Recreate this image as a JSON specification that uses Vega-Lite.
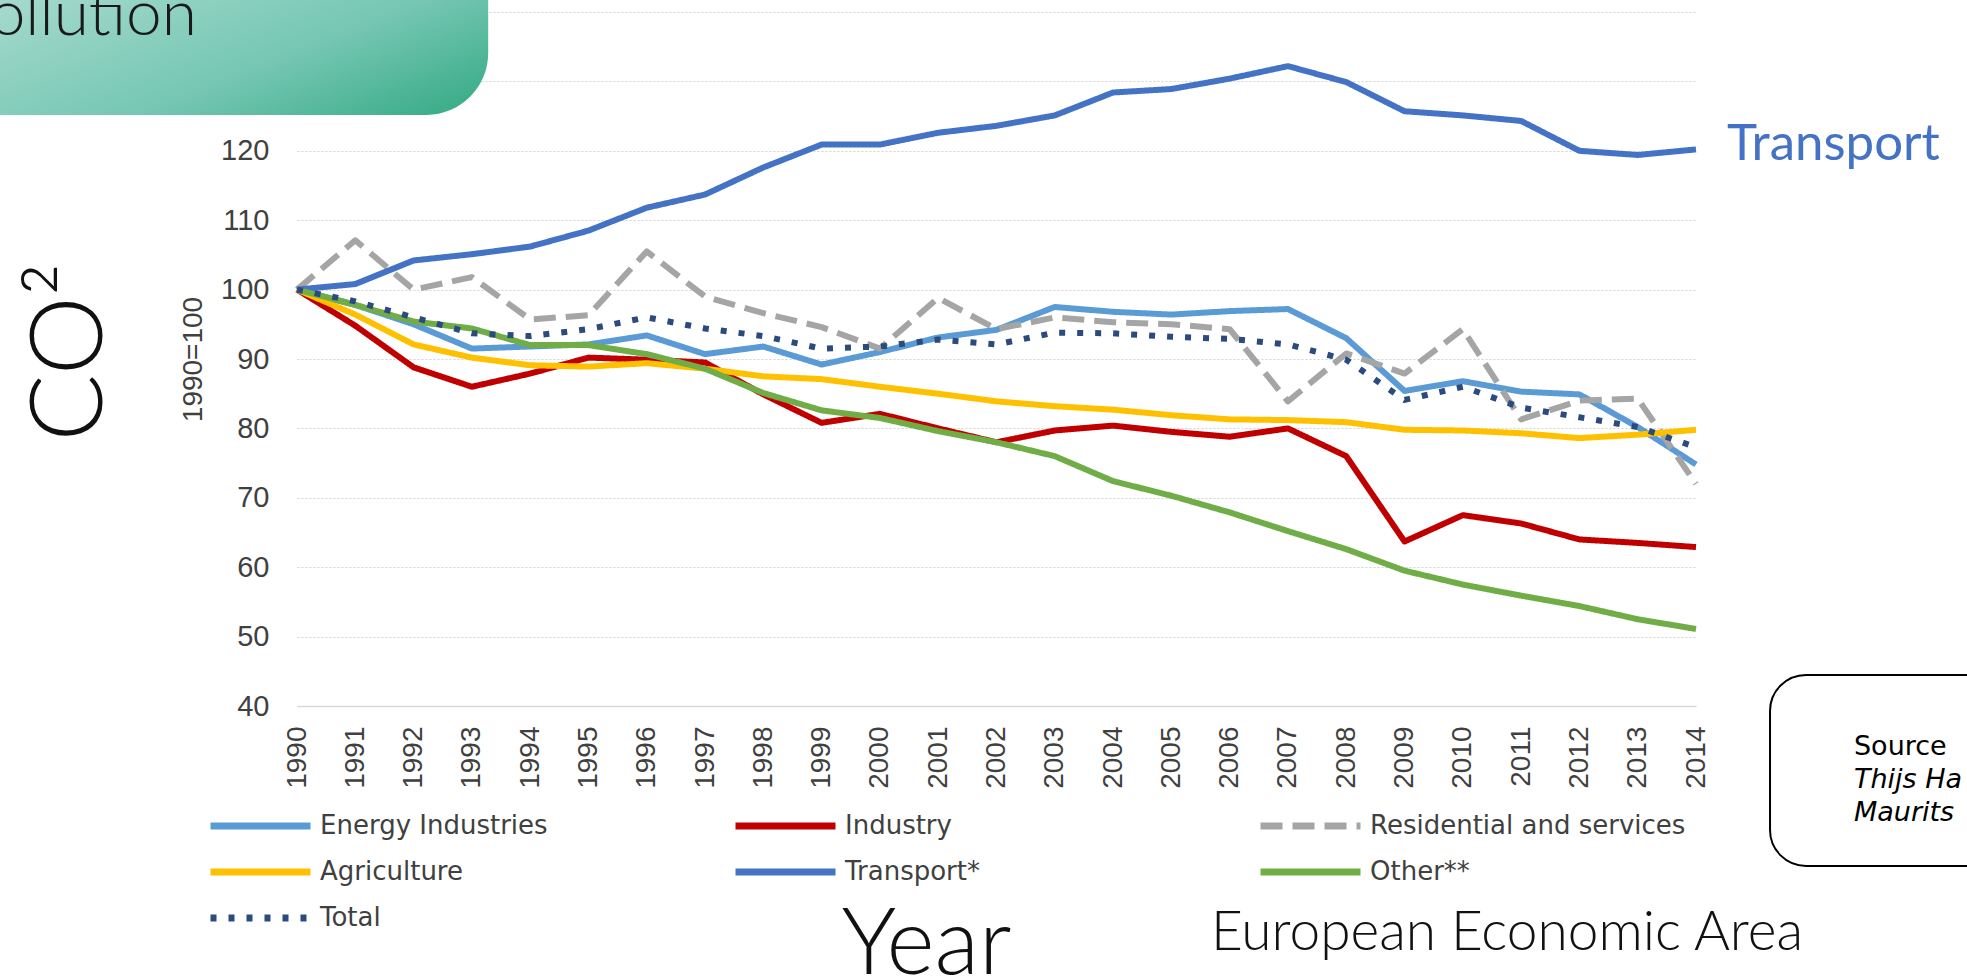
{
  "$schema": "https://vega.github.io/schema/vega-lite/v6.json",
  "width": 1399,
  "height": 694,
  "autosize": {"type": "none"},
  "padding": {"left": 297, "top": 12, "right": 271, "bottom": 270},
  "background": "white",
  "config": {
    "view": {"stroke": null},
    "legend": {
      "symbolType": "stroke",
      "symbolSize": 10000,
      "symbolStrokeWidth": 7,
      "clipHeight": 26,
      "labelFont": "DejaVu Sans",
      "labelFontSize": 26,
      "labelColor": "#404040",
      "labelOffset": 6,
      "labelLimit": 600,
      "padding": 0,
      "rowPadding": 20,
      "columnPadding": 96,
      "gridAlign": "all"
    }
  },
  "datasets": {
    "co2": [
      {"year": 1990, "sector": "Energy Industries", "index": 100},
      {"year": 1991, "sector": "Energy Industries", "index": 97.8},
      {"year": 1992, "sector": "Energy Industries", "index": 95.0},
      {"year": 1993, "sector": "Energy Industries", "index": 91.5},
      {"year": 1994, "sector": "Energy Industries", "index": 91.8},
      {"year": 1995, "sector": "Energy Industries", "index": 92.1},
      {"year": 1996, "sector": "Energy Industries", "index": 93.4},
      {"year": 1997, "sector": "Energy Industries", "index": 90.7},
      {"year": 1998, "sector": "Energy Industries", "index": 91.8},
      {"year": 1999, "sector": "Energy Industries", "index": 89.2},
      {"year": 2000, "sector": "Energy Industries", "index": 91.0},
      {"year": 2001, "sector": "Energy Industries", "index": 93.1},
      {"year": 2002, "sector": "Energy Industries", "index": 94.2},
      {"year": 2003, "sector": "Energy Industries", "index": 97.5},
      {"year": 2004, "sector": "Energy Industries", "index": 96.8},
      {"year": 2005, "sector": "Energy Industries", "index": 96.4},
      {"year": 2006, "sector": "Energy Industries", "index": 96.9},
      {"year": 2007, "sector": "Energy Industries", "index": 97.2},
      {"year": 2008, "sector": "Energy Industries", "index": 93.0},
      {"year": 2009, "sector": "Energy Industries", "index": 85.4},
      {"year": 2010, "sector": "Energy Industries", "index": 86.8},
      {"year": 2011, "sector": "Energy Industries", "index": 85.3},
      {"year": 2012, "sector": "Energy Industries", "index": 84.9},
      {"year": 2013, "sector": "Energy Industries", "index": 80.2},
      {"year": 2014, "sector": "Energy Industries", "index": 74.8},
      {"year": 1990, "sector": "Industry", "index": 100},
      {"year": 1991, "sector": "Industry", "index": 94.8},
      {"year": 1992, "sector": "Industry", "index": 88.8},
      {"year": 1993, "sector": "Industry", "index": 86.0},
      {"year": 1994, "sector": "Industry", "index": 87.9},
      {"year": 1995, "sector": "Industry", "index": 90.2},
      {"year": 1996, "sector": "Industry", "index": 89.9},
      {"year": 1997, "sector": "Industry", "index": 89.5},
      {"year": 1998, "sector": "Industry", "index": 84.9},
      {"year": 1999, "sector": "Industry", "index": 80.8},
      {"year": 2000, "sector": "Industry", "index": 82.1},
      {"year": 2001, "sector": "Industry", "index": 80.0},
      {"year": 2002, "sector": "Industry", "index": 78.0},
      {"year": 2003, "sector": "Industry", "index": 79.7},
      {"year": 2004, "sector": "Industry", "index": 80.4},
      {"year": 2005, "sector": "Industry", "index": 79.5},
      {"year": 2006, "sector": "Industry", "index": 78.8},
      {"year": 2007, "sector": "Industry", "index": 80.0},
      {"year": 2008, "sector": "Industry", "index": 76.0},
      {"year": 2009, "sector": "Industry", "index": 63.7},
      {"year": 2010, "sector": "Industry", "index": 67.5},
      {"year": 2011, "sector": "Industry", "index": 66.3},
      {"year": 2012, "sector": "Industry", "index": 64.0},
      {"year": 2013, "sector": "Industry", "index": 63.5},
      {"year": 2014, "sector": "Industry", "index": 62.9},
      {"year": 1990, "sector": "Residential and services", "index": 100},
      {"year": 1991, "sector": "Residential and services", "index": 107.1},
      {"year": 1992, "sector": "Residential and services", "index": 100.0},
      {"year": 1993, "sector": "Residential and services", "index": 101.8},
      {"year": 1994, "sector": "Residential and services", "index": 95.7},
      {"year": 1995, "sector": "Residential and services", "index": 96.3},
      {"year": 1996, "sector": "Residential and services", "index": 105.5},
      {"year": 1997, "sector": "Residential and services", "index": 99.0},
      {"year": 1998, "sector": "Residential and services", "index": 96.6},
      {"year": 1999, "sector": "Residential and services", "index": 94.6},
      {"year": 2000, "sector": "Residential and services", "index": 91.5},
      {"year": 2001, "sector": "Residential and services", "index": 98.8},
      {"year": 2002, "sector": "Residential and services", "index": 94.3},
      {"year": 2003, "sector": "Residential and services", "index": 96.0},
      {"year": 2004, "sector": "Residential and services", "index": 95.3},
      {"year": 2005, "sector": "Residential and services", "index": 95.0},
      {"year": 2006, "sector": "Residential and services", "index": 94.3},
      {"year": 2007, "sector": "Residential and services", "index": 83.9},
      {"year": 2008, "sector": "Residential and services", "index": 90.8},
      {"year": 2009, "sector": "Residential and services", "index": 87.9},
      {"year": 2010, "sector": "Residential and services", "index": 94.3},
      {"year": 2011, "sector": "Residential and services", "index": 81.3},
      {"year": 2012, "sector": "Residential and services", "index": 84.0},
      {"year": 2013, "sector": "Residential and services", "index": 84.3},
      {"year": 2014, "sector": "Residential and services", "index": 72.0},
      {"year": 1990, "sector": "Agriculture", "index": 100},
      {"year": 1991, "sector": "Agriculture", "index": 96.4},
      {"year": 1992, "sector": "Agriculture", "index": 92.1},
      {"year": 1993, "sector": "Agriculture", "index": 90.2},
      {"year": 1994, "sector": "Agriculture", "index": 89.1},
      {"year": 1995, "sector": "Agriculture", "index": 88.9},
      {"year": 1996, "sector": "Agriculture", "index": 89.4},
      {"year": 1997, "sector": "Agriculture", "index": 88.6},
      {"year": 1998, "sector": "Agriculture", "index": 87.5},
      {"year": 1999, "sector": "Agriculture", "index": 87.1},
      {"year": 2000, "sector": "Agriculture", "index": 86.0},
      {"year": 2001, "sector": "Agriculture", "index": 85.0},
      {"year": 2002, "sector": "Agriculture", "index": 83.9},
      {"year": 2003, "sector": "Agriculture", "index": 83.2},
      {"year": 2004, "sector": "Agriculture", "index": 82.7},
      {"year": 2005, "sector": "Agriculture", "index": 81.9},
      {"year": 2006, "sector": "Agriculture", "index": 81.3},
      {"year": 2007, "sector": "Agriculture", "index": 81.2},
      {"year": 2008, "sector": "Agriculture", "index": 80.9},
      {"year": 2009, "sector": "Agriculture", "index": 79.8},
      {"year": 2010, "sector": "Agriculture", "index": 79.7},
      {"year": 2011, "sector": "Agriculture", "index": 79.3},
      {"year": 2012, "sector": "Agriculture", "index": 78.6},
      {"year": 2013, "sector": "Agriculture", "index": 79.1},
      {"year": 2014, "sector": "Agriculture", "index": 79.8},
      {"year": 1990, "sector": "Transport*", "index": 100},
      {"year": 1991, "sector": "Transport*", "index": 100.8},
      {"year": 1992, "sector": "Transport*", "index": 104.2},
      {"year": 1993, "sector": "Transport*", "index": 105.1},
      {"year": 1994, "sector": "Transport*", "index": 106.2},
      {"year": 1995, "sector": "Transport*", "index": 108.5},
      {"year": 1996, "sector": "Transport*", "index": 111.8},
      {"year": 1997, "sector": "Transport*", "index": 113.7},
      {"year": 1998, "sector": "Transport*", "index": 117.6},
      {"year": 1999, "sector": "Transport*", "index": 120.9},
      {"year": 2000, "sector": "Transport*", "index": 120.9},
      {"year": 2001, "sector": "Transport*", "index": 122.6},
      {"year": 2002, "sector": "Transport*", "index": 123.6},
      {"year": 2003, "sector": "Transport*", "index": 125.1},
      {"year": 2004, "sector": "Transport*", "index": 128.4},
      {"year": 2005, "sector": "Transport*", "index": 128.9},
      {"year": 2006, "sector": "Transport*", "index": 130.4},
      {"year": 2007, "sector": "Transport*", "index": 132.2},
      {"year": 2008, "sector": "Transport*", "index": 129.9},
      {"year": 2009, "sector": "Transport*", "index": 125.7},
      {"year": 2010, "sector": "Transport*", "index": 125.1},
      {"year": 2011, "sector": "Transport*", "index": 124.3},
      {"year": 2012, "sector": "Transport*", "index": 120.0},
      {"year": 2013, "sector": "Transport*", "index": 119.4},
      {"year": 2014, "sector": "Transport*", "index": 120.2},
      {"year": 1990, "sector": "Other**", "index": 100},
      {"year": 1991, "sector": "Other**", "index": 97.8},
      {"year": 1992, "sector": "Other**", "index": 95.4},
      {"year": 1993, "sector": "Other**", "index": 94.4},
      {"year": 1994, "sector": "Other**", "index": 92.0},
      {"year": 1995, "sector": "Other**", "index": 92.0},
      {"year": 1996, "sector": "Other**", "index": 90.7},
      {"year": 1997, "sector": "Other**", "index": 88.6},
      {"year": 1998, "sector": "Other**", "index": 85.1},
      {"year": 1999, "sector": "Other**", "index": 82.6},
      {"year": 2000, "sector": "Other**", "index": 81.5},
      {"year": 2001, "sector": "Other**", "index": 79.6},
      {"year": 2002, "sector": "Other**", "index": 78.0},
      {"year": 2003, "sector": "Other**", "index": 76.0},
      {"year": 2004, "sector": "Other**", "index": 72.4},
      {"year": 2005, "sector": "Other**", "index": 70.3},
      {"year": 2006, "sector": "Other**", "index": 67.9},
      {"year": 2007, "sector": "Other**", "index": 65.2},
      {"year": 2008, "sector": "Other**", "index": 62.6},
      {"year": 2009, "sector": "Other**", "index": 59.5},
      {"year": 2010, "sector": "Other**", "index": 57.5},
      {"year": 2011, "sector": "Other**", "index": 55.9},
      {"year": 2012, "sector": "Other**", "index": 54.4},
      {"year": 2013, "sector": "Other**", "index": 52.5},
      {"year": 2014, "sector": "Other**", "index": 51.1},
      {"year": 1990, "sector": "Total", "index": 100},
      {"year": 1991, "sector": "Total", "index": 98.3},
      {"year": 1992, "sector": "Total", "index": 96.0},
      {"year": 1993, "sector": "Total", "index": 93.7},
      {"year": 1994, "sector": "Total", "index": 93.3},
      {"year": 1995, "sector": "Total", "index": 94.3},
      {"year": 1996, "sector": "Total", "index": 96.0},
      {"year": 1997, "sector": "Total", "index": 94.4},
      {"year": 1998, "sector": "Total", "index": 93.3},
      {"year": 1999, "sector": "Total", "index": 91.5},
      {"year": 2000, "sector": "Total", "index": 91.8},
      {"year": 2001, "sector": "Total", "index": 92.8},
      {"year": 2002, "sector": "Total", "index": 92.1},
      {"year": 2003, "sector": "Total", "index": 93.8},
      {"year": 2004, "sector": "Total", "index": 93.7},
      {"year": 2005, "sector": "Total", "index": 93.2},
      {"year": 2006, "sector": "Total", "index": 92.9},
      {"year": 2007, "sector": "Total", "index": 92.1},
      {"year": 2008, "sector": "Total", "index": 89.9},
      {"year": 2009, "sector": "Total", "index": 84.1},
      {"year": 2010, "sector": "Total", "index": 86.0},
      {"year": 2011, "sector": "Total", "index": 83.0},
      {"year": 2012, "sector": "Total", "index": 81.6},
      {"year": 2013, "sector": "Total", "index": 80.2},
      {"year": 2014, "sector": "Total", "index": 77.3}
    ]
  },
  "layer": [
    {
      "data": {"name": "co2"},
      "mark": {"type": "line", "strokeWidth": 6, "strokeJoin": "round"},
      "encoding": {
        "x": {
          "field": "year", "type": "quantitative",
          "scale": {"domain": [1990, 2014], "nice": false, "zero": false},
          "axis": {
            "values": [1990, 1991, 1992, 1993, 1994, 1995, 1996, 1997, 1998, 1999, 2000, 2001, 2002, 2003, 2004, 2005, 2006, 2007, 2008, 2009, 2010, 2011, 2012, 2013, 2014],
            "format": "d",
            "labelAngle": -90,
            "labelFont": "Liberation Sans",
            "labelFontSize": 28,
            "labelColor": "#404040",
            "labelPadding": 20,
            "labelFlush": false,
            "labelOverlap": false,
            "ticks": false,
            "grid": false,
            "domain": true,
            "domainColor": "#d9d9d9",
            "domainWidth": 1.5,
            "title": "Year",
            "titleFont": "Lato",
            "titleFontWeight": 300,
            "titleFontSize": 92,
            "titleColor": "#111111",
            "titleX": 544,
            "titleY": 267,
            "titleAlign": "left",
            "titleBaseline": "alphabetic"
          }
        },
        "y": {
          "field": "index", "type": "quantitative",
          "scale": {"domain": [40, 140], "nice": false, "zero": false},
          "axis": {
            "values": [40, 50, 60, 70, 80, 90, 100, 110, 120, 130, 140],
            "labelExpr": "datum.value > 120 ? '' : datum.label",
            "labelFont": "Liberation Sans",
            "labelFontSize": 29,
            "labelColor": "#404040",
            "labelPadding": 28,
            "ticks": false,
            "domain": false,
            "grid": true,
            "gridColor": "#d2d2d2",
            "gridDash": [2, 2],
            "gridWidth": 1,
            "title": "1990=100",
            "titleFont": "Liberation Sans",
            "titleFontSize": 28,
            "titleFontWeight": "normal",
            "titleColor": "#404040",
            "titleX": -104,
            "titleY": 347,
            "titleAngle": 270,
            "titleAlign": "center",
            "titleBaseline": "middle"
          }
        },
        "color": {
          "field": "sector", "type": "nominal",
          "scale": {
            "domain": ["Energy Industries", "Industry", "Residential and services", "Agriculture", "Transport*", "Other**", "Total"],
            "range": ["#5b9bd5", "#c00000", "#a5a5a5", "#ffc000", "#4472c4", "#70ad47", "#2b4a7e"]
          },
          "legend": {"title": null, "orient": "none", "legendX": -90, "legendY": 801, "columns": 3, "direction": "horizontal"}
        },
        "strokeDash": {
          "field": "sector", "type": "nominal",
          "scale": {
            "domain": ["Energy Industries", "Industry", "Residential and services", "Agriculture", "Transport*", "Other**", "Total"],
            "range": [[1, 0], [1, 0], [22, 10], [1, 0], [1, 0], [1, 0], [6, 12]]
          },
          "legend": {"title": null, "orient": "none", "legendX": -90, "legendY": 801, "columns": 3, "direction": "horizontal"}
        }
      }
    },
    {
      "data": {"values": [{"label": "Transport"}]},
      "mark": {"type": "text", "font": "Lato", "fontSize": 51, "color": "#4472c4", "align": "left", "baseline": "alphabetic", "dx": 31, "dy": 9},
      "encoding": {
        "x": {"datum": 2014, "type": "quantitative", "scale": {"domain": [1990, 2014], "nice": false, "zero": false}},
        "y": {"datum": 120, "type": "quantitative", "scale": {"domain": [40, 140], "nice": false, "zero": false}},
        "text": {"field": "label"}
      }
    },
    {
      "data": {"values": [{"shape": "title banner"}]},
      "mark": {
        "type": "rect",
        "cornerRadiusBottomRight": 105,
        "color": {"gradient": "linear", "x1": 0, "y1": 0.2, "x2": 1, "y2": 0.8,
          "stops": [{"offset": 0, "color": "#a3d9cc"}, {"offset": 0.6, "color": "#74c6b2"}, {"offset": 1, "color": "#3fae8b"}]}
      },
      "encoding": {
        "x": {"datum": 1984.5, "type": "quantitative", "scale": {"domain": [1990, 2014], "nice": false, "zero": false}},
        "x2": {"datum": 1993.28},
        "y": {"datum": 143, "type": "quantitative", "scale": {"domain": [40, 140], "nice": false, "zero": false}},
        "y2": {"datum": 125.16}
      }
    },
    {
      "data": {"values": [{"label": "pollution"}]},
      "mark": {"type": "text", "font": "Lato", "fontWeight": 300, "fontSize": 64, "color": "#1a1a1a", "align": "right", "baseline": "alphabetic"},
      "encoding": {
        "x": {"datum": 1988.285, "type": "quantitative", "scale": {"domain": [1990, 2014], "nice": false, "zero": false}},
        "y": {"datum": 136.69, "type": "quantitative", "scale": {"domain": [40, 140], "nice": false, "zero": false}},
        "text": {"field": "label"}
      }
    },
    {
      "data": {"values": [{"label": "CO²"}]},
      "mark": {"type": "text", "font": "Lato", "fontWeight": 300, "fontSize": 100, "color": "#111111", "align": "center", "baseline": "middle", "angle": 270},
      "encoding": {
        "x": {"datum": 1986.14, "type": "quantitative", "scale": {"domain": [1990, 2014], "nice": false, "zero": false}},
        "y": {"datum": 91.0, "type": "quantitative", "scale": {"domain": [40, 140], "nice": false, "zero": false}},
        "text": {"field": "label"}
      }
    },
    {
      "data": {"values": [{"label": "European Economic Area"}]},
      "mark": {"type": "text", "font": "Lato", "fontWeight": 300, "fontSize": 55, "color": "#111111", "align": "left", "baseline": "alphabetic"},
      "encoding": {
        "x": {"datum": 2005.68, "type": "quantitative", "scale": {"domain": [1990, 2014], "nice": false, "zero": false}},
        "y": {"datum": 4.84, "type": "quantitative", "scale": {"domain": [40, 140], "nice": false, "zero": false}},
        "text": {"field": "label"}
      }
    },
    {
      "data": {"values": [{"shape": "source box"}]},
      "mark": {"type": "rect", "cornerRadius": 36, "fill": "white", "stroke": "black", "strokeWidth": 2},
      "encoding": {
        "x": {"datum": 2015.27, "type": "quantitative", "scale": {"domain": [1990, 2014], "nice": false, "zero": false}},
        "x2": {"datum": 2019.73},
        "y": {"datum": 44.47, "type": "quantitative", "scale": {"domain": [40, 140], "nice": false, "zero": false}},
        "y2": {"datum": 16.95}
      }
    },
    {
      "data": {"values": [{"label": "Source"}]},
      "mark": {"type": "text", "font": "DejaVu Sans", "fontSize": 27, "color": "#000000", "align": "left", "baseline": "alphabetic"},
      "encoding": {
        "x": {"datum": 2016.71, "type": "quantitative", "scale": {"domain": [1990, 2014], "nice": false, "zero": false}},
        "y": {"datum": 32.94, "type": "quantitative", "scale": {"domain": [40, 140], "nice": false, "zero": false}},
        "text": {"field": "label"}
      }
    },
    {
      "data": {"values": [{"label": "Thijs Ha"}]},
      "mark": {"type": "text", "font": "DejaVu Sans", "fontStyle": "italic", "fontSize": 27, "color": "#000000", "align": "left", "baseline": "alphabetic"},
      "encoding": {
        "x": {"datum": 2016.71, "type": "quantitative", "scale": {"domain": [1990, 2014], "nice": false, "zero": false}},
        "y": {"datum": 28.18, "type": "quantitative", "scale": {"domain": [40, 140], "nice": false, "zero": false}},
        "text": {"field": "label"}
      }
    },
    {
      "data": {"values": [{"label": "Maurits"}]},
      "mark": {"type": "text", "font": "DejaVu Sans", "fontStyle": "italic", "fontSize": 27, "color": "#000000", "align": "left", "baseline": "alphabetic"},
      "encoding": {
        "x": {"datum": 2016.71, "type": "quantitative", "scale": {"domain": [1990, 2014], "nice": false, "zero": false}},
        "y": {"datum": 23.43, "type": "quantitative", "scale": {"domain": [40, 140], "nice": false, "zero": false}},
        "text": {"field": "label"}
      }
    }
  ]
}
